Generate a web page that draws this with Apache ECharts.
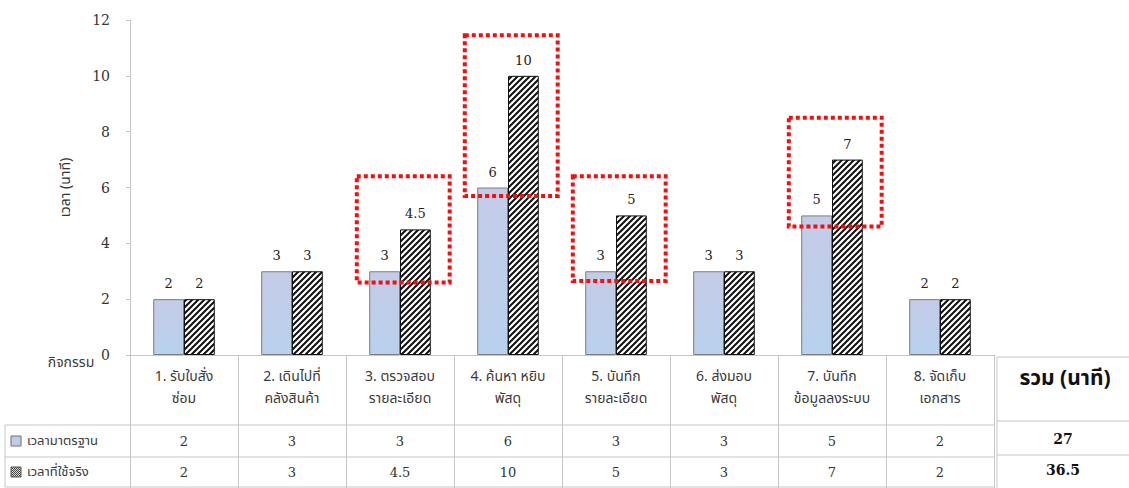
<!DOCTYPE html>
<html>
<head>
<meta charset="utf-8">
<script src="https://cdn.jsdelivr.net/npm/echarts@6/dist/echarts.min.js"></script>
<style>
  html, body { margin: 0; padding: 0; background: #ffffff; }
  #chart { width: 1129px; height: 488px; }
</style>
</head>
<body>
<div id="chart"></div>
<script>
// Activities and times (minutes)
const categories = [
  '1. รับใบสั่ง\nซ่อม',
  '2. เดินไปที่\nคลังสินค้า',
  '3. ตรวจสอบ\nรายละเอียด',
  '4. ค้นหา หยิบ\nพัสดุ',
  '5. บันทึก\nรายละเอียด',
  '6. ส่งมอบ\nพัสดุ',
  '7. บันทึก\nข้อมูลลงระบบ',
  '8. จัดเก็บ\nเอกสาร'
];
const standardTime = [2, 3, 3, 6, 3, 3, 5, 2];
const actualTime = [2, 3, 4.5, 10, 5, 3, 7, 2];
const rowNames = ['เวลามาตรฐาน', 'เวลาที่ใช้จริง'];
const activityHeader = 'กิจกรรม';
const totalHeader = 'รวม (นาที)';
const yAxisName = 'เวลา (นาที)';

// Activities flagged for review, with the value span each dotted box covers
const reviewIndex = [2, 3, 4, 6];
const reviewSpan = [[2.6, 6.4], [5.7, 11.45], [2.65, 6.4], [4.6, 8.5]];

const THAI = '"Noto Sans Thai", "Noto Sans", "DejaVu Sans", sans-serif';
const SERIF = '"DejaVu Serif", "Liberation Serif", serif';
const GRID_LINE = '#c6c6c6';

// Diagonal hatch tile for the actual-time bars
function hatchTile() {
  const s = 6;
  const c = document.createElement('canvas');
  c.width = s; c.height = s;
  const g = c.getContext('2d');
  g.fillStyle = '#ffffff';
  g.fillRect(0, 0, s, s);
  g.strokeStyle = '#111111';
  g.lineWidth = 2;
  g.beginPath();
  g.moveTo(-1, s + 1); g.lineTo(s + 1, -1);
  g.moveTo(-1, 1); g.lineTo(1, -1);
  g.moveTo(s - 1, s + 1); g.lineTo(s + 1, s - 1);
  g.stroke();
  return c.toDataURL();
}
// Fine checker tile for the small legend key of the actual-time row
function checkerTile() {
  const c = document.createElement('canvas');
  c.width = 2; c.height = 2;
  const g = c.getContext('2d');
  g.fillStyle = '#d8d8d8';
  g.fillRect(0, 0, 2, 2);
  g.fillStyle = '#444444';
  g.fillRect(0, 0, 1, 1);
  g.fillRect(1, 1, 1, 1);
  return c.toDataURL();
}
const hatch = { image: hatchTile(), repeat: 'repeat' };
const checker = { image: checkerTile(), repeat: 'repeat' };
const blueFill = new echarts.graphic.LinearGradient(0, 0, 0, 1, [
  { offset: 0, color: '#c4cbe7' },
  { offset: 1, color: '#b8d1ed' }
]);

const sum = a => a.reduce((s, v) => s + v, 0);
const totals = [sum(standardTime), sum(actualTime)];

const chart = echarts.init(document.getElementById('chart'), null, { renderer: 'svg' });

const barLabel = {
  show: true,
  position: 'top',
  distance: 9,
  fontFamily: SERIF,
  fontSize: 13,
  color: '#222222'
};

chart.setOption({
  animation: false,
  backgroundColor: '#ffffff',
  grid: { left: 130, right: 135, top: 20, bottom: 133 },
  xAxis: {
    type: 'category',
    data: categories,
    axisLine: { lineStyle: { color: GRID_LINE } },
    axisTick: { show: true, length: 133, lineStyle: { color: GRID_LINE } },
    axisLabel: {
      margin: 10,
      fontFamily: THAI,
      fontSize: 14,
      lineHeight: 22,
      color: '#3a3a3a',
      interval: 0
    }
  },
  yAxis: {
    type: 'value',
    min: 0,
    max: 12,
    interval: 2,
    name: yAxisName,
    nameLocation: 'middle',
    nameRotate: 90,
    nameGap: 58,
    nameTextStyle: { fontFamily: THAI, fontSize: 14, color: '#333333' },
    axisLine: { show: true, lineStyle: { color: GRID_LINE } },
    axisTick: { show: true, length: 4, lineStyle: { color: GRID_LINE } },
    splitLine: { show: false },
    axisLabel: { margin: 20, fontFamily: SERIF, fontSize: 14, color: '#333333' }
  },
  series: [
    {
      name: rowNames[0],
      type: 'bar',
      data: standardTime,
      barGap: '0%',
      barCategoryGap: '43%',
      itemStyle: { color: blueFill, borderColor: '#7c7c7c', borderWidth: 1 },
      label: barLabel
    },
    {
      name: rowNames[1],
      type: 'bar',
      data: actualTime,
      itemStyle: { color: hatch, borderColor: '#111111', borderWidth: 1 },
      label: barLabel
    }
  ]
});

// Data table, legend keys and review boxes, placed through the chart's own scales
function px(i, v) { return chart.convertToPixel({ seriesIndex: 0 }, [i, v]); }
const band = px(1, 0)[0] - px(0, 0)[0];
const axisY = px(0, 0)[1];
const rightX = px(categories.length - 1, 0)[0] + band / 2;
const row1Top = 425, row2Top = 457, tableBottom = 487;

const g = [];
const line = (x1, y1, x2, y2) => g.push({
  type: 'line', silent: true,
  shape: { x1, y1, x2, y2 },
  style: { stroke: GRID_LINE, lineWidth: 1 }
});

// table rules
[row1Top, row2Top, tableBottom].forEach(y => line(5, y, rightX, y));
line(5, row1Top, 5, tableBottom);

// activity header at the table corner
g.push({
  type: 'text', silent: true,
  style: { x: 71, y: 362, text: activityHeader, font: '14px ' + THAI, fill: '#3a3a3a', align: 'center', verticalAlign: 'middle' }
});

// row labels with legend keys
const rowMid = [(row1Top + row2Top) / 2, (row2Top + tableBottom) / 2];
rowNames.forEach((name, r) => {
  g.push({
    type: 'rect', silent: true,
    shape: { x: 11, y: rowMid[r] - 5, width: 10, height: 10 },
    style: r === 0
      ? { fill: '#c0cde9', stroke: '#6f6f6f', lineWidth: 1 }
      : { fill: checker, stroke: '#555555', lineWidth: 1 }
  });
  g.push({
    type: 'text', silent: true,
    style: { x: 27, y: rowMid[r], text: name, font: '13px ' + THAI, fill: '#3a3a3a', align: 'left', verticalAlign: 'middle' }
  });
});

// row values
[standardTime, actualTime].forEach((vals, r) => {
  vals.forEach((v, i) => {
    g.push({
      type: 'text', silent: true,
      style: { x: px(i, 0)[0], y: rowMid[r], text: String(v), font: '13px ' + SERIF, fill: '#333333', align: 'center', verticalAlign: 'middle' }
    });
  });
});

// totals column
const totX = rightX + 3;
const totMid = (totX + 1129) / 2;
line(totX, axisY + 2, 1129, axisY + 2);
line(totX, axisY + 2, totX, tableBottom + 2);
line(totX, 421, 1129, 421);
line(totX, 455, 1129, 455);
g.push({
  type: 'text', silent: true,
  style: { x: totMid + 2, y: 378, text: totalHeader, font: 'bold 21px ' + THAI, fill: '#111111', align: 'center', verticalAlign: 'middle' }
});
totals.forEach((t, r) => {
  g.push({
    type: 'text', silent: true,
    style: { x: totMid, y: r === 0 ? 439 : 470, text: String(t), font: 'bold 14px ' + SERIF, fill: '#111111', align: 'center', verticalAlign: 'middle' }
  });
});

// dotted review boxes
reviewIndex.forEach((i, k) => {
  const cx = px(i, 0)[0];
  const top = px(i, reviewSpan[k][1])[1];
  const bottom = px(i, reviewSpan[k][0])[1];
  g.push({
    type: 'rect', silent: true, z: 100,
    shape: { x: cx - band * 0.4, y: top, width: band * 0.86, height: bottom - top },
    style: { fill: 'none', stroke: '#ee1111', lineWidth: 4, lineDash: [4, 3] }
  });
});

chart.setOption({ graphic: g });
</script>
</body>
</html>
